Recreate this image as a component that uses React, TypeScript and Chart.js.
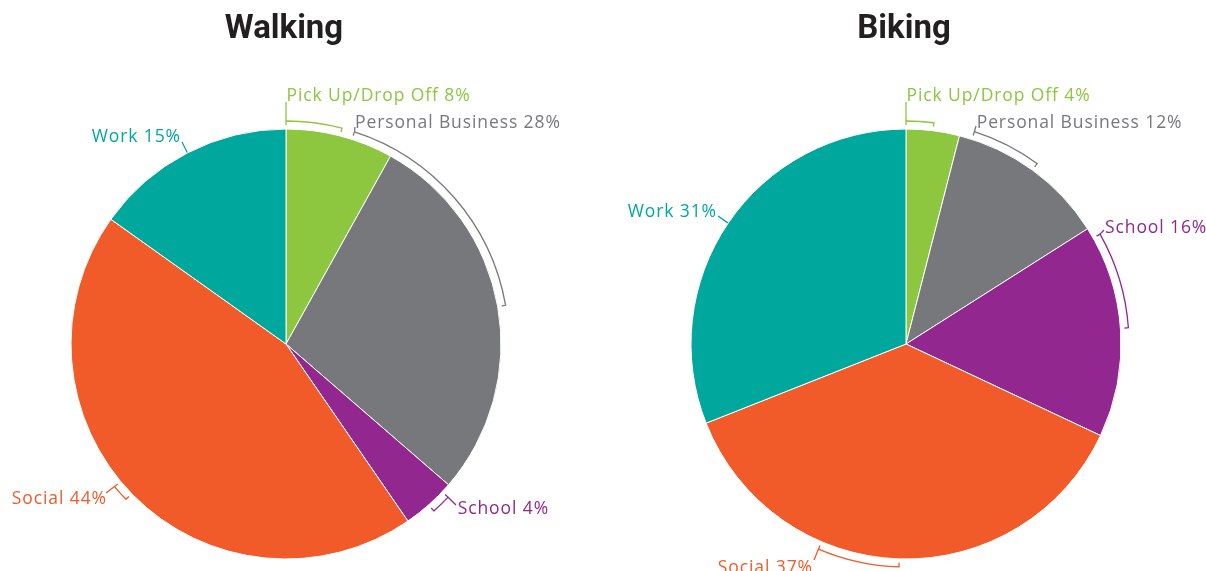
import React, { useEffect, useRef } from "react";
import { Chart, registerables } from "chart.js";

Chart.register(...registerables);

const CATEGORIES = ["Pick Up/Drop Off", "Personal Business", "School", "Social", "Work"];
const WALKING_VALUES = [8, 28, 4, 44, 15];
const BIKING_VALUES = [4, 12, 16, 37, 31];
const COLORS = ["#8DC63F", "#77787B", "#92278F", "#F15A29", "#00A79D"];
const TITLES = ["Walking", "Biking"];

type Spec = {
  bracket: [number, number] | null;
  from: number;
  tx: number;
  ty: number;
  align: "left" | "right";
  lx: number;
  ly: number;
};

// label layout (style only)
const WALKING_LAYOUT: Spec[] = [
  { bracket: [0, 0.5], from: 0, tx: 0.5, ty: -243.5, align: "left", lx: 0, ly: -242 },
  { bracket: [-0.11, 0.5], from: -0.11, tx: 69, ty: -215.7, align: "left", lx: 69, ly: -217 },
  { bracket: [0.17, 0.52], from: 0.17, tx: 171.7, ty: 170, align: "left", lx: 170, ly: 161 },
  { bracket: [0.5025, 0.53], from: 0.53, tx: -180, ty: 160, align: "right", lx: -180, ly: 149 },
  { bracket: null, from: 0.5, tx: -106, ty: -202.5, align: "right", lx: -104, ly: -202 },
];
const BIKING_LAYOUT: Spec[] = [
  { bracket: [0, 0.5], from: 0, tx: 0.5, ty: -243.5, align: "left", lx: 0, ly: -242 },
  { bracket: [0.08, 0.5], from: 0.08, tx: 70.7, ty: -216.5, align: "left", lx: 70, ly: -218 },
  { bracket: [0.05, 0.49], from: 0.05, tx: 199, ty: -111.5, align: "left", lx: 198, ly: -114 },
  { bracket: [0.5, 0.66], from: 0.66, tx: -94, ty: 229, align: "right", lx: -92, ly: 216 },
  { bracket: null, from: 0.5, tx: -190, ty: -127.5, align: "right", lx: -188, ly: -128 },
];

const W = 1206;
const H = 571;
const RADIUS = 215;
const BRACKET_R = 223;
const LABEL_FONT = '17.5px "Open Sans", "Noto Sans", sans-serif';
const LABEL_SPACING = 0.9;
const TITLE_FONT = 'bold 34px Roboto, "Noto Sans", sans-serif';

const annotPlugin = {
  id: "pieAnnot",
  afterDatasetsDraw(chart: any) {
    const o = chart.options.plugins.pieAnnot;
    if (!o) return;
    const ctx: any = chart.ctx;
    const meta = chart.getDatasetMeta(0);
    const values: number[] = chart.data.datasets[0].data;
    const labels: string[] = chart.data.labels;
    const colors: string[] = chart.data.datasets[0].backgroundColor;
    const specs: Spec[] = o.layout;
    let cx = 0;
    meta.data.forEach((arc: any, i: number) => {
      const p = arc.getProps(["x", "y", "startAngle", "endAngle", "outerRadius"], true);
      cx = p.x;
      const s = specs[i];
      const span = p.endAngle - p.startAngle;
      const ang = (f: number) => p.startAngle + f * span;
      const pt = (a: number, r: number) => [p.x + r * Math.cos(a), p.y + r * Math.sin(a)];
      ctx.save();
      ctx.strokeStyle = colors[i];
      ctx.fillStyle = colors[i];
      ctx.lineWidth = 1.3;
      let start: number[];
      if (s.bracket) {
        const a0 = ang(s.bracket[0]);
        const a1 = ang(s.bracket[1]);
        const in0 = pt(a0, BRACKET_R - 4);
        const in1 = pt(a1, BRACKET_R - 4);
        const o0 = pt(a0, BRACKET_R);
        ctx.beginPath();
        ctx.moveTo(in0[0], in0[1]);
        ctx.lineTo(o0[0], o0[1]);
        ctx.arc(p.x, p.y, BRACKET_R, a0, a1, false);
        ctx.lineTo(in1[0], in1[1]);
        ctx.stroke();
        start = pt(ang(s.from), BRACKET_R);
      } else {
        start = pt(ang(s.from), p.outerRadius + 0.5);
      }
      ctx.beginPath();
      ctx.moveTo(start[0], start[1]);
      ctx.lineTo(p.x + s.lx, p.y + s.ly);
      ctx.stroke();
      ctx.font = LABEL_FONT;
      ctx.letterSpacing = `${LABEL_SPACING}px`;
      ctx.textAlign = s.align;
      ctx.textBaseline = "alphabetic";
      const shift = s.align === "right" ? LABEL_SPACING : 0;
      ctx.fillText(`${labels[i]} ${values[i]}%`, p.x + s.tx + shift, p.y + s.ty);
      ctx.restore();
    });
    ctx.save();
    ctx.font = TITLE_FONT;
    ctx.fillStyle = "#231F20";
    ctx.textAlign = "center";
    ctx.textBaseline = "alphabetic";
    ctx.translate(cx - 2, 37.5);
    ctx.scale(0.97, 1);
    ctx.fillText(o.title, 0, 0);
    ctx.restore();
  },
};

function PieCanvas({ values, title, layout, padding }: any) {
  const ref = useRef<HTMLCanvasElement>(null);
  useEffect(() => {
    if (!ref.current) return;
    const chart = new Chart(ref.current, {
      type: "pie",
      data: {
        labels: CATEGORIES,
        datasets: [
          {
            data: values,
            backgroundColor: COLORS,
            borderColor: "#ffffff",
            borderWidth: 1,
            hoverOffset: 0,
            radius: RADIUS,
          } as any,
        ],
      },
      options: {
        responsive: false,
        animation: false,
        devicePixelRatio: 1,
        layout: { padding },
        events: [],
        plugins: {
          legend: { display: false },
          tooltip: { enabled: false },
          title: { display: false },
          pieAnnot: { title, layout },
        } as any,
      },
      plugins: [annotPlugin],
    });
    return () => chart.destroy();
  }, []);
  return (
    <canvas
      ref={ref}
      width={W}
      height={H}
      style={{ position: "absolute", left: 0, top: 0, width: W, height: H }}
    />
  );
}

export default function App() {
  return (
    <div style={{ position: "fixed", left: 0, top: 0, width: W, height: H, background: "#fff", overflow: "hidden" }}>
      <PieCanvas
        values={WALKING_VALUES}
        title={TITLES[0]}
        layout={WALKING_LAYOUT}
        padding={{ top: 117, bottom: 0, left: 0, right: W - 572 }}
      />
      <PieCanvas
        values={BIKING_VALUES}
        title={TITLES[1]}
        layout={BIKING_LAYOUT}
        padding={{ top: 117, bottom: 0, left: 606, right: 0 }}
      />
    </div>
  );
}
